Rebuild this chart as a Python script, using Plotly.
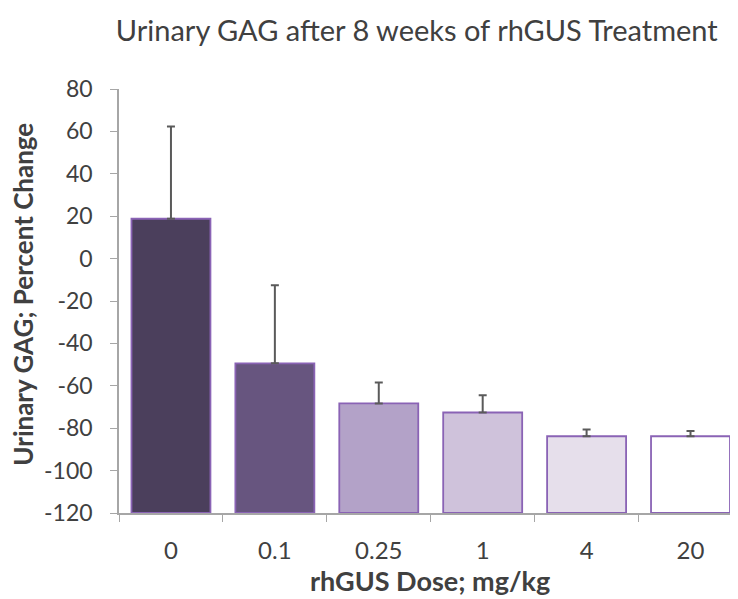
import plotly.graph_objects as go

doses = ["0", "0.1", "0.25", "1", "4", "20"]
pct_change = [18.8, -49.4, -68.3, -72.6, -83.8, -83.8]
err_upper = [43.5, 36.8, 9.8, 8.2, 3.2, 2.5]
y_ticks = [80, 60, 40, 20, 0, -20, -40, -60, -80, -100, -120]
y_tick_labels = ["80", "60", "40", "20", "0", "-20", "-40", "-60", "-80", "-100", "-120"]

axis_min = -120
bar_colors = ["#4b3f5c", "#67557f", "#b3a2c8", "#cfc2db", "#e6dfeb", "#ffffff"]

fig = go.Figure()
fig.add_trace(go.Bar(
    x=doses,
    y=[v - axis_min for v in pct_change],
    base=axis_min,
    marker=dict(color=bar_colors, line=dict(color="#8a63b5", width=1.8)),
    error_y=dict(type="data", symmetric=False, array=err_upper,
                 arrayminus=[0] * len(doses),
                 color="#5a5a5a", thickness=2, width=4),
))

font = "Lato, 'Open Sans', sans-serif"
fig.update_layout(
    width=730, height=591,
    paper_bgcolor="white", plot_bgcolor="white",
    margin=dict(l=111, r=0, t=81, b=86),
    bargap=0.24,
    showlegend=False,
    title=dict(text="Urinary GAG after 8 weeks of rhGUS Treatment",
               x=0.56, xanchor="center", y=0.962, yanchor="middle",
               font=dict(family=font, size=29, color="#404040")),
    xaxis=dict(
        type="category", range=[-0.5, 5.457], automargin=False,
        showline=True, linecolor="#a6a6a6", linewidth=1.5,
        ticks="outside", tickson="boundaries", ticklen=7, tickcolor="#a6a6a6",
        tickfont=dict(family=font, size=24, color="#404040"),
        ticklabelstandoff=15,
        showgrid=False, zeroline=False,
    ),
    yaxis=dict(
        range=[axis_min, 80], tickvals=y_ticks, ticktext=y_tick_labels,
        automargin=False,
        showline=True, linecolor="#a6a6a6", linewidth=1.5,
        ticks="outside", ticklen=7, tickcolor="#a6a6a6",
        tickfont=dict(family=font, size=23, color="#404040"),
        ticklabelstandoff=13,
        showgrid=False, zeroline=False,
    ),
    annotations=[
        dict(text="<b>rhGUS Dose; mg/kg</b>", xref="paper", yref="paper",
             x=0.502, y=-0.16, xanchor="center", yanchor="middle",
             showarrow=False,
             font=dict(family=font, size=27, color="#404040")),
        dict(text="<b>Urinary GAG; Percent Change</b>", xref="paper", yref="paper",
             x=-0.155, y=0.515, xanchor="center", yanchor="middle",
             textangle=-90, showarrow=False,
             font=dict(family=font, size=26, color="#404040")),
    ],
)

fig.write_html("out.html")
